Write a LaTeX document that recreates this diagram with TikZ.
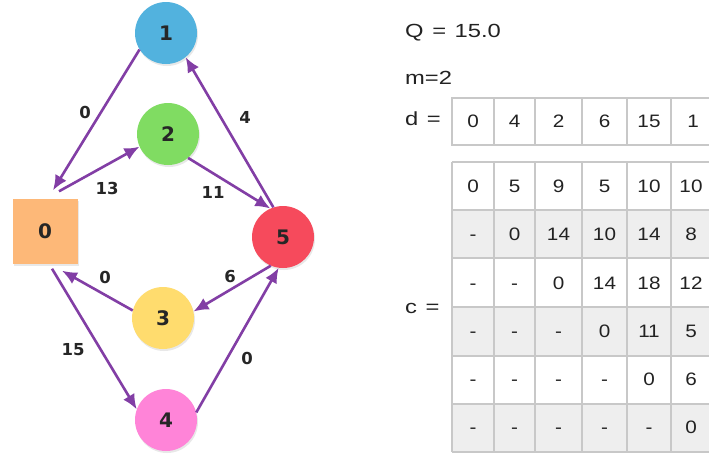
\documentclass[tikz,border=0pt]{standalone}
\usepackage{fontspec}
\setmainfont{Liberation Sans}
\newfontfamily\labelfont{DejaVu Sans}
\newfontfamily\sidefont[FakeStretch=1.25, WordSpace=1.3]{Liberation Sans}
\newfontfamily\cellfont[FakeStretch=1.15]{Liberation Sans}
\usetikzlibrary{arrows.meta,shadows}

\definecolor{edgepurple}{RGB}{130,62,165}
\definecolor{vblue}{RGB}{82,178,222}
\definecolor{vgreen}{RGB}{128,220,98}
\definecolor{vorange}{RGB}{253,184,120}
\definecolor{vred}{RGB}{246,74,92}
\definecolor{vyellow}{RGB}{255,220,110}
\definecolor{vpink}{RGB}{255,132,216}
\definecolor{gridgray}{RGB}{200,200,200}
\definecolor{rowgray}{RGB}{238,238,238}
\definecolor{textdark}{RGB}{34,34,34}

\tikzset{
  vertex/.style={circle, minimum size=62pt, inner sep=0pt,
    font=\labelfont\bfseries\fontsize{20}{20}\selectfont, text=black!85,
    drop shadow={opacity=0.18, shadow xshift=1pt, shadow yshift=-2pt}},
  sourcebox/.style={rectangle, minimum size=65pt, inner sep=0pt, fill=vorange,
    font=\labelfont\bfseries\fontsize{20}{20}\selectfont, text=black!85,
    drop shadow={opacity=0.18, shadow xshift=1pt, shadow yshift=-2pt}},
  edge/.style={draw=edgepurple, line width=2.6pt,
    -{Latex[length=15pt,width=13pt]}},
  weight/.style={font=\labelfont\bfseries\fontsize{16.5}{16.5}\selectfont, text=black!85},
  plain/.style={font=\sidefont\fontsize{19}{19}\selectfont, text=textdark, anchor=west, inner sep=0pt},
  cellline/.style={draw=gridgray, line width=1.3pt},
  celltext/.style={font=\cellfont\fontsize{18}{18}\selectfont, text=textdark, inner sep=0pt,
    text height=12.9pt, text depth=0pt}
}

\begin{document}
\begin{tikzpicture}[x=1pt,y=-1pt]
\useasboundingbox (0,0) rectangle (709,459);
\fill[white] (0,0) rectangle (709,459);

% vertices of the network
\node[sourcebox] (n0) at (45,231) {0};
\node[vertex, fill=vblue]   (n1) at (166,33)  {1};
\node[vertex, fill=vgreen]  (n2) at (168,134) {2};
\node[vertex, fill=vyellow] (n3) at (163,318) {3};
\node[vertex, fill=vpink]   (n4) at (166,420) {4};
\node[vertex, fill=vred]    (n5) at (283,237) {5};

% weighted arcs
\draw[edge] (n1.212) -- ([xshift=8pt,yshift=8pt]n0.north);
\draw[edge] ([xshift=14pt,yshift=7pt]n0.north) -- (n2.204);
\draw[edge] (n2.-50) -- (n5.114);
\draw[edge] (n5.108) -- (n1.-51);
\draw[edge] (n3.166) -- ([xshift=17pt,yshift=-7pt]n0.south);
\draw[edge] ([xshift=7pt,yshift=-5pt]n0.south) -- (n4.160);
\draw[edge] (n4.14) -- (n5.262);
\draw[edge] (n5.247) -- (n3.12);

\node[weight] (w10) at (85,112)  {0};
\node[weight] (w02) at (107,188) {13};
\node[weight] (w25) at (213,192) {11};
\node[weight] (w51) at (245,117) {4};
\node[weight] (w30) at (105,277) {0};
\node[weight] (w53) at (230,276) {6};
\node[weight] (w04) at (73,350)  {15};
\node[weight] (w45) at (247,358) {0};

% parameters
\node[plain] (q) at (405,33)  {Q = 15.0};
\node[plain] (m) at (405,78)  {m=2};
\node[plain] (dlab) at (405,119) {d =};
\node[plain] (clab) at (405,308) {c =};

\begin{scope}
\clip (0,0) rectangle (709,459);
% demand row
\foreach \a/\b/\v [count=\i] in {452/494/0, 494/535/4, 535/582/2, 582/627/6, 627/671/15, 671/715/1} {
  \draw[cellline] (\a,98) rectangle (\b,145);
  \node[celltext] (d\i) at ({(\a+\b)/2},121.5) {\v};
}
% cost matrix: shaded rows, then grid
\foreach \ya/\yb in {210/258, 307/356, 404/452}
  \fill[rowgray] (452,\ya) rectangle (715,\yb);
\foreach \y in {162,210,258,307,356,404,452}
  \draw[cellline] (452,\y) -- (715,\y);
\foreach \x in {452,494,535,582,627,671}
  \draw[cellline] (\x,162) -- (\x,452);
\foreach \vals [count=\r] in {{0,5,9,5,10,10},{-,0,14,10,14,8},{-,-,0,14,18,12},{-,-,-,0,11,5},{-,-,-,-,0,6},{-,-,-,-,-,0}} {
  \foreach \v [count=\c] in \vals {
    \pgfmathsetmacro\cx{{473,514.5,558.5,604.5,649,691}[\c-1]}
    \node[celltext] (c-\r-\c) at (\cx,{186+48.3*(\r-1)}) {\v};
  }
}
\end{scope}
\end{tikzpicture}
\end{document}
